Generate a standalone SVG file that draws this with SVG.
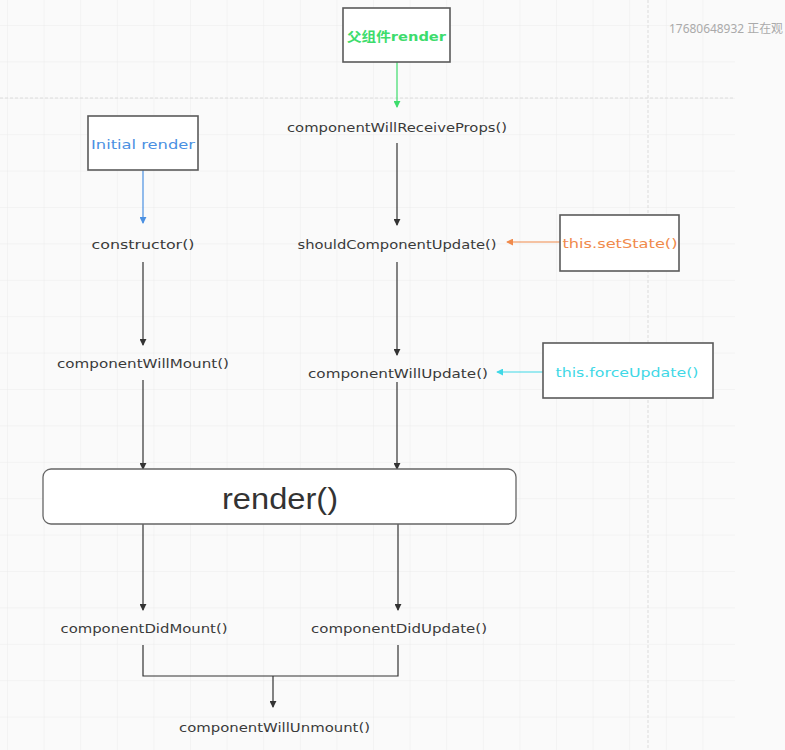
<svg xmlns="http://www.w3.org/2000/svg" width="785" height="750" viewBox="0 0 785 750">
  <defs>
    <pattern id="grid" x="7" y="25" width="36.6" height="36.4" patternUnits="userSpaceOnUse">
      <path d="M0 0 H36.6 M0 0 V36.4" fill="none" stroke="#ececec" stroke-width="1"/>
    </pattern>
    <marker id="ah-dark" viewBox="0 0 8 8" refX="7" refY="4" markerWidth="7" markerHeight="7" orient="auto" markerUnits="userSpaceOnUse">
      <path d="M0 0 L8 4 L0 8 Z" fill="#333"/>
    </marker>
    <marker id="ah-green" viewBox="0 0 8 8" refX="7" refY="4" markerWidth="7" markerHeight="7" orient="auto" markerUnits="userSpaceOnUse">
      <path d="M0 0 L8 4 L0 8 Z" fill="#3ddc6c"/>
    </marker>
    <marker id="ah-blue" viewBox="0 0 8 8" refX="7" refY="4" markerWidth="7" markerHeight="7" orient="auto" markerUnits="userSpaceOnUse">
      <path d="M0 0 L8 4 L0 8 Z" fill="#4a90e2"/>
    </marker>
    <marker id="ah-orange" viewBox="0 0 8 8" refX="7" refY="4" markerWidth="7" markerHeight="7" orient="auto" markerUnits="userSpaceOnUse">
      <path d="M0 0 L8 4 L0 8 Z" fill="#f08a4b"/>
    </marker>
    <marker id="ah-cyan" viewBox="0 0 8 8" refX="7" refY="4" markerWidth="7" markerHeight="7" orient="auto" markerUnits="userSpaceOnUse">
      <path d="M0 0 L8 4 L0 8 Z" fill="#3fd8e6"/>
    </marker>
  </defs>
  <style>
    .lbl { font-family: "DejaVu Sans", "Noto Sans CJK SC", sans-serif; font-size: 13px; fill: #3a3a3a; text-anchor: middle; }
    .box { fill: #ffffff; stroke: #5a5a5a; stroke-width: 1.6; }
    .edge { fill: none; stroke: #333; stroke-width: 1.2; }
  </style>

  <!-- canvas with faint grid and page-break guides -->
  <rect width="785" height="750" fill="#fafafa"/>
  <rect x="0" y="0" width="735" height="750" fill="url(#grid)"/>
  <line x1="0" y1="98" x2="735" y2="98" stroke="#dcdcdc" stroke-width="1" stroke-dasharray="3 2"/>
  <line x1="648" y1="0" x2="648" y2="750" stroke="#dcdcdc" stroke-width="1" stroke-dasharray="3 2"/>
  <text x="669" y="33" font-family="'Noto Sans', 'Noto Sans CJK SC', sans-serif" font-size="12" fill="#aaa" textLength="114" lengthAdjust="spacingAndGlyphs">17680648932 正在观</text>

  <!-- connectors -->
  <g id="connectors">
    <line x1="397" y1="62" x2="397" y2="107" stroke="#3ddc6c" stroke-width="1.2" marker-end="url(#ah-green)"/>
    <line x1="143" y1="170" x2="143" y2="223" stroke="#4a90e2" stroke-width="1.2" marker-end="url(#ah-blue)"/>
    <line class="edge" x1="397" y1="143" x2="397" y2="225" marker-end="url(#ah-dark)"/>
    <line class="edge" x1="397" y1="262" x2="397" y2="355" marker-end="url(#ah-dark)"/>
    <line class="edge" x1="397" y1="382" x2="397" y2="469" marker-end="url(#ah-dark)"/>
    <line class="edge" x1="143" y1="262" x2="143" y2="345" marker-end="url(#ah-dark)"/>
    <line class="edge" x1="143" y1="380" x2="143" y2="469" marker-end="url(#ah-dark)"/>
    <line class="edge" x1="143" y1="524" x2="143" y2="610" marker-end="url(#ah-dark)"/>
    <line class="edge" x1="398" y1="524" x2="398" y2="610" marker-end="url(#ah-dark)"/>
    <path class="edge" d="M143 645 V676 H398 V645"/>
    <line class="edge" x1="273" y1="676" x2="273" y2="707" marker-end="url(#ah-dark)"/>
    <line x1="560" y1="242" x2="507" y2="242" stroke="#f08a4b" stroke-width="1.2" marker-end="url(#ah-orange)"/>
    <line x1="543" y1="372" x2="497" y2="372" stroke="#3fd8e6" stroke-width="1.2" marker-end="url(#ah-cyan)"/>
  </g>

  <!-- nodes -->
  <g id="parent-render">
    <rect class="box" x="343" y="8" width="107" height="54"/>
    <text class="lbl" x="396.5" y="41" style="fill:#3ddc6c;font-weight:bold" textLength="99" lengthAdjust="spacingAndGlyphs">父组件render</text>
  </g>
  <g id="initial-render">
    <rect class="box" x="88" y="116" width="110" height="54"/>
    <text class="lbl" x="143" y="149" style="fill:#4a90e2" textLength="104" lengthAdjust="spacingAndGlyphs">Initial render</text>
  </g>
  <g id="set-state">
    <rect class="box" x="560" y="215" width="119" height="56"/>
    <text class="lbl" x="620" y="248" style="fill:#f08a4b" textLength="115" lengthAdjust="spacingAndGlyphs">this.setState()</text>
  </g>
  <g id="force-update">
    <rect class="box" x="543" y="343" width="170" height="55"/>
    <text class="lbl" x="627" y="377" style="fill:#3fd8e6" textLength="143" lengthAdjust="spacingAndGlyphs">this.forceUpdate()</text>
  </g>
  <g id="will-receive-props">
    <text class="lbl" x="397" y="132" textLength="220" lengthAdjust="spacingAndGlyphs">componentWillReceiveProps()</text>
  </g>
  <g id="constructor">
    <text class="lbl" x="143" y="249" textLength="103" lengthAdjust="spacingAndGlyphs">constructor()</text>
  </g>
  <g id="should-update">
    <text class="lbl" x="397" y="249" textLength="199" lengthAdjust="spacingAndGlyphs">shouldComponentUpdate()</text>
  </g>
  <g id="will-mount">
    <text class="lbl" x="143" y="368" textLength="172" lengthAdjust="spacingAndGlyphs">componentWillMount()</text>
  </g>
  <g id="will-update">
    <text class="lbl" x="398" y="378" textLength="180" lengthAdjust="spacingAndGlyphs">componentWillUpdate()</text>
  </g>
  <g id="render">
    <rect x="43" y="469" width="473" height="55" rx="8" ry="8" fill="#ffffff" stroke="#666" stroke-width="1.3"/>
    <text x="280" y="509" font-family="'Liberation Sans', Arial, sans-serif" font-size="30" fill="#333" text-anchor="middle" textLength="116" lengthAdjust="spacingAndGlyphs">render()</text>
  </g>
  <g id="did-mount">
    <text class="lbl" x="144" y="633" textLength="167" lengthAdjust="spacingAndGlyphs">componentDidMount()</text>
  </g>
  <g id="did-update">
    <text class="lbl" x="399" y="633" textLength="176" lengthAdjust="spacingAndGlyphs">componentDidUpdate()</text>
  </g>
  <g id="will-unmount">
    <text class="lbl" x="274.5" y="732" textLength="191" lengthAdjust="spacingAndGlyphs">componentWillUnmount()</text>
  </g>
</svg>
